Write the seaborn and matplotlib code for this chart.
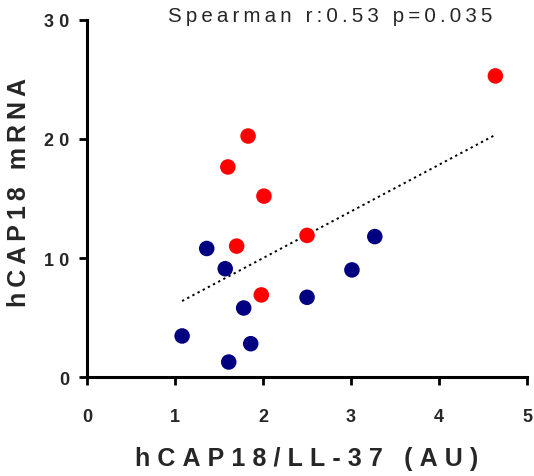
import numpy as np
import pandas as pd
import matplotlib
matplotlib.use("Agg")
import matplotlib.pyplot as plt
import seaborn as sns

# values
red_x = [4.64, 1.83, 1.60, 2.01, 1.70, 2.50, 1.98]
red_y = [25.3, 20.25, 17.65, 15.2, 11.0, 11.9, 6.9]
blue_x = [1.36, 1.57, 3.27, 3.01, 2.50, 1.78, 1.08, 1.86, 1.61]
blue_y = [10.8, 9.1, 11.8, 9.0, 6.7, 5.8, 3.45, 2.8, 1.26]

x_ticks = [0, 1, 2, 3, 4, 5]
y_ticks = [0, 10, 20, 30]
stat_text = "Spearman r:0.53 p=0.035"
x_label = "hCAP18/LL-37 (AU)"
y_label = "hCAP18 mRNA"

df = pd.DataFrame({
    "x": red_x + blue_x,
    "y": red_y + blue_y,
    "group": ["red"] * len(red_x) + ["blue"] * len(blue_x),
})

sns.set_style("ticks")
plt.rcParams['font.family'] = ['Liberation Sans', 'DejaVu Sans']

def spaced(s, sep="\u2009"):
    # mimic the wide letter spacing of the original
    return sep.join(list(s))

fig = plt.figure(figsize=(5.34, 4.77), dpi=100)
ax = fig.add_axes([0.163, 0.2075, 0.824, 0.7485])

sns.regplot(data=df, x="x", y="y", scatter=False, ci=None, ax=ax,
            line_kws=dict(color="black", linestyle=(0, (1.2, 1.8)), linewidth=1.4))
sns.scatterplot(data=df, x="x", y="y", hue="group",
                palette={"red": "#ff0000", "blue": "#000080"},
                s=125, linewidth=0, legend=False, ax=ax, zorder=3, clip_on=False)

ax.set_xlim(0, 5)
ax.set_ylim(0, 30)
ax.set_xticks(x_ticks)
ax.set_yticks(y_ticks)
ax.set_xticklabels([str(t) for t in x_ticks], fontweight="bold", fontsize=13)
ax.set_yticklabels([spaced(str(t), "\u2009\u200a") for t in y_ticks], fontweight="bold", fontsize=13)
ax.tick_params(direction="out", length=6, width=2, color="black")
ax.tick_params(axis="x", pad=16)
ax.tick_params(axis="y", pad=7)
sns.despine(ax=ax)
for side in ["left", "bottom"]:
    ax.spines[side].set_linewidth(2.2)
    ax.spines[side].set_color("black")

ax.set_xlabel(spaced(x_label, "\u2009\u200a"), fontweight="bold", fontsize=18, va="center")
ax.set_ylabel(spaced(y_label), fontweight="bold", fontsize=18, va="center")
ax.xaxis.set_label_coords(0.5, -0.226)
ax.yaxis.set_label_coords(-0.155, 0.52)

fig.text(0.618, 0.965, spaced(stat_text), fontsize=14.8, ha="center", va="center")

fig.savefig("out.png", dpi=100)
